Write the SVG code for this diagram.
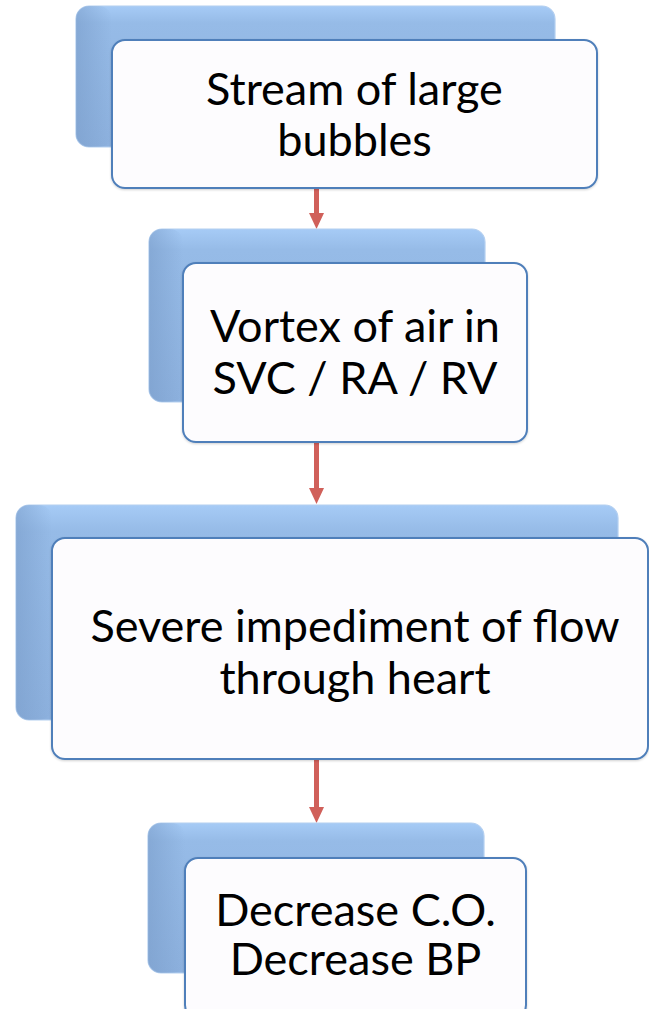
<svg xmlns="http://www.w3.org/2000/svg" width="649" height="1009" viewBox="0 0 649 1009">
<defs>
<linearGradient id="gBack" x1="0" y1="0" x2="0" y2="1">
<stop offset="0" stop-color="#a6cbf6"/>
<stop offset="0.12" stop-color="#96bbe7"/>
<stop offset="1" stop-color="#8db1de"/>
</linearGradient>
<linearGradient id="gLeft" x1="0" y1="0" x2="1" y2="0">
<stop offset="0" stop-color="#7a9dca" stop-opacity="0.6"/>
<stop offset="1" stop-color="#7a9dca" stop-opacity="0"/>
</linearGradient>
<filter id="sh" x="-5%" y="-5%" width="110%" height="115%">
<feDropShadow dx="0" dy="1" stdDeviation="1" flood-color="#000" flood-opacity="0.18"/>
</filter>
<marker id="arr" markerUnits="userSpaceOnUse" markerWidth="16" markerHeight="16" refX="6" refY="7.5" orient="auto">
<path d="M0,0 L16,7.5 L0,15 Z" fill="#d0605a"/>
</marker>
<style>
.back{fill:url(#gBack);stroke:#b3cff0;stroke-width:1.2}
.bev{fill:url(#gLeft)}
.front{fill:#fdfcfe;stroke:#4f7fba;stroke-width:2}
.lbl{font-family:Lato,"Liberation Sans",sans-serif;font-size:45px;fill:#000;text-anchor:middle}
.conn line{stroke:#d0605a;stroke-width:5;marker-end:url(#arr)}
</style>
</defs>

<g id="connectors" class="conn">
<line x1="316.5" y1="188" x2="316.5" y2="219"/>
<line x1="316.5" y1="442" x2="316.5" y2="494"/>
<line x1="316.5" y1="759" x2="316.5" y2="813"/>
</g>

<g id="node1">
<rect class="back" x="76" y="6" width="479" height="141" rx="13"/>
<rect class="bev" x="76" y="6" width="36" height="141" rx="13"/>
<rect class="front" filter="url(#sh)" x="112" y="40" width="485" height="148" rx="13"/>
<text class="lbl" x="354.5" y="105">Stream of large</text>
<text class="lbl" x="354.5" y="156">bubbles</text>
</g>

<g id="node2">
<rect class="back" x="149" y="229" width="336" height="173" rx="13"/>
<rect class="bev" x="149" y="229" width="34" height="173" rx="13"/>
<rect class="front" filter="url(#sh)" x="183" y="263" width="344" height="179" rx="13"/>
<text class="lbl" x="355" y="342">Vortex of air in</text>
<text class="lbl" x="355" y="394">SVC / RA / RV</text>
</g>

<g id="node3">
<rect class="back" x="16" y="505" width="602" height="215" rx="13"/>
<rect class="bev" x="16" y="505" width="36" height="215" rx="13"/>
<rect class="front" filter="url(#sh)" x="52" y="538" width="596" height="221" rx="13"/>
<text class="lbl" x="355" y="642">Severe impediment of flow</text>
<text class="lbl" x="355" y="694">through heart</text>
</g>

<g id="node4">
<rect class="back" x="148" y="823" width="336" height="150" rx="13"/>
<rect class="bev" x="148" y="823" width="37" height="150" rx="13"/>
<rect class="front" filter="url(#sh)" x="185" y="858" width="341" height="160" rx="13"/>
<text class="lbl" x="355.5" y="926">Decrease C.O.</text>
<text class="lbl" x="355.5" y="975">Decrease BP</text>
</g>
</svg>
